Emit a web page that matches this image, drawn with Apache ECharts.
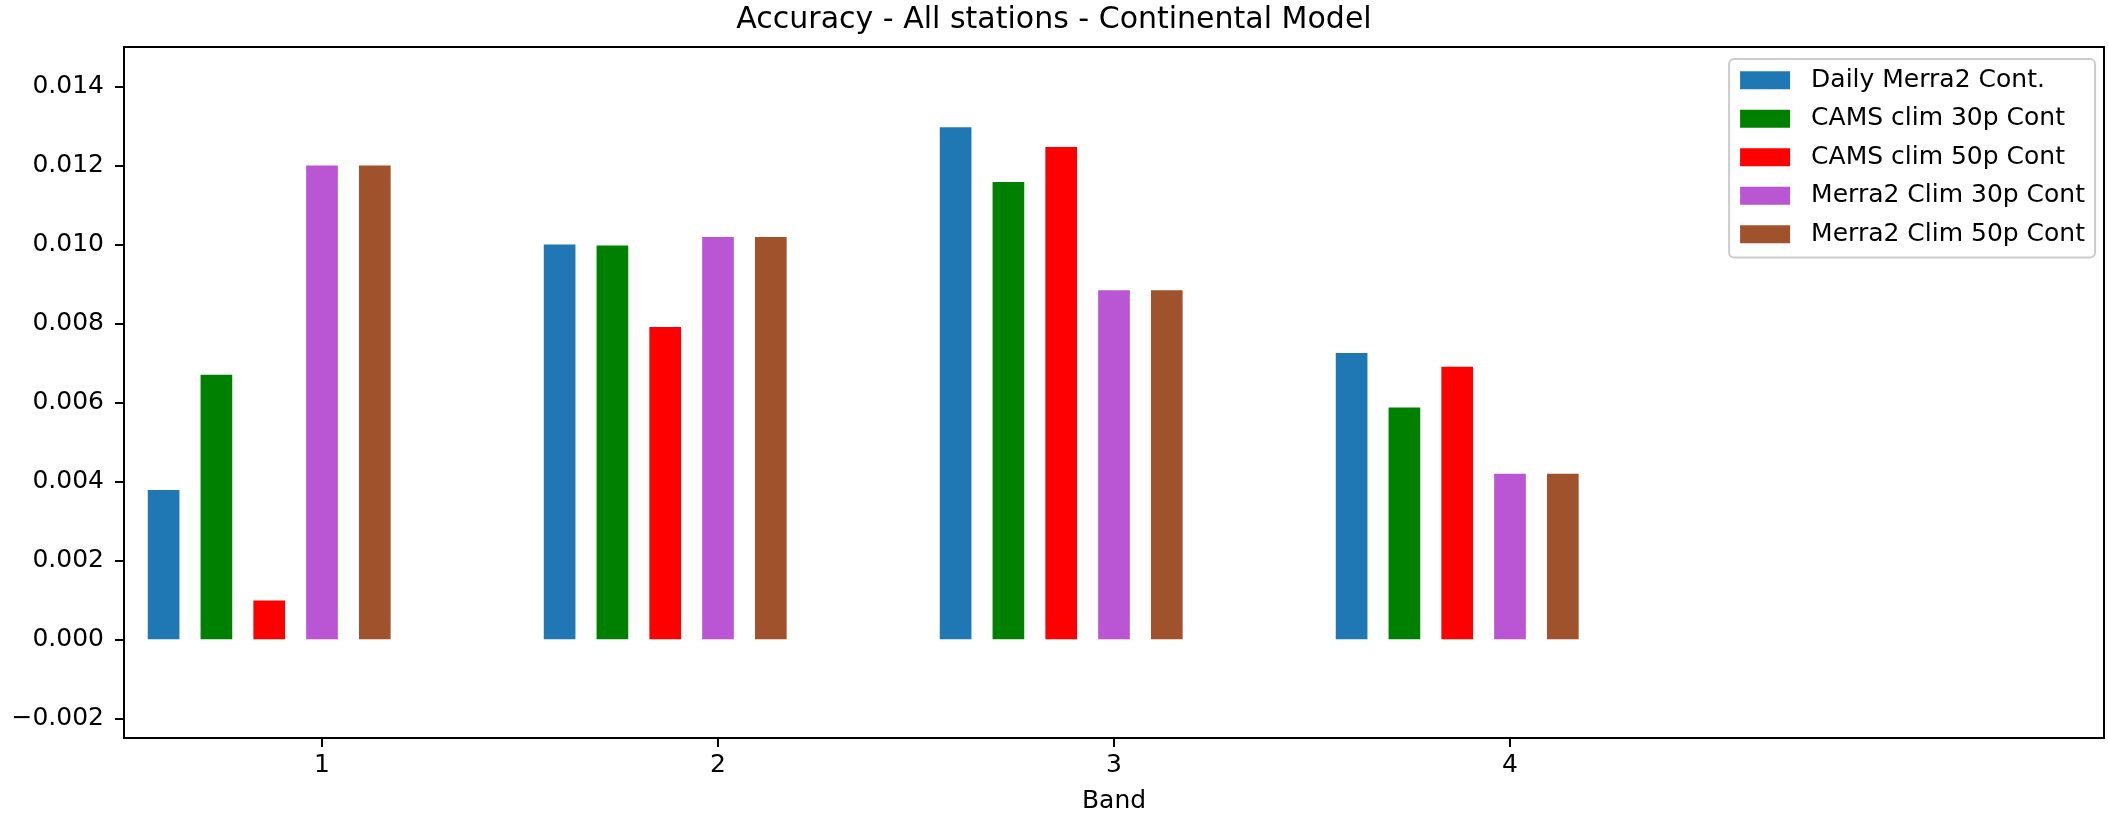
<!DOCTYPE html>
<html>
<head>
<meta charset="utf-8">
<title>Accuracy - All stations - Continental Model</title>
<script src="https://cdn.jsdelivr.net/npm/echarts@6/dist/echarts.min.js"></script>
<style>
  html, body { margin: 0; padding: 0; background: #ffffff; }
  #chart { width: 2108px; height: 819px; }
</style>
</head>
<body>
<div id="chart"></div>
<script>
// Spectral bands on the x axis
const bands = [1, 2, 3, 4];

// Accuracy per band for each aerosol input
const seriesNames = [
  'Daily Merra2 Cont.',
  'CAMS clim 30p Cont',
  'CAMS clim 50p Cont',
  'Merra2 Clim 30p Cont',
  'Merra2 Clim 50p Cont'
];
const dailyMerra2 = [0.00378, 0.01000, 0.01297, 0.00725];
const camsClim30p = [0.00670, 0.00997, 0.01158, 0.00587];
const camsClim50p = [0.00098, 0.00791, 0.01247, 0.00690];
const merra2Clim30p = [0.01200, 0.01019, 0.00884, 0.00419];
const merra2Clim50p = [0.01200, 0.01019, 0.00884, 0.00419];

// Tick labels
const yTicks = [-0.002, 0.000, 0.002, 0.004, 0.006, 0.008, 0.010, 0.012, 0.014];
const xTicks = bands;

const seriesValues = [dailyMerra2, camsClim30p, camsClim50p, merra2Clim30p, merra2Clim50p];
const colors = ['#1f77b4', '#008000', '#ff0000', '#ba55d3', '#a0522d'];

// Bars of one band sit side by side, one slot per input; the fourth slot is on the band's tick
const slotStep = 0.4 / 3;
const slotStart = -0.4;
const barWidthData = 0.08;

const FONT = 'DejaVu Sans';
const gridLeft = 124, gridRight = 4;
const xMin = 0.5, xMax = 5.5;
const plotWidth = 2108 - gridLeft - gridRight;
const barWidthPx = barWidthData * plotWidth / (xMax - xMin);

const chart = echarts.init(document.getElementById('chart'), null, { renderer: 'canvas' });

const series = seriesNames.map((name, k) => ({
  name: name,
  type: 'bar',
  barWidth: barWidthPx,
  barGap: '-100%',
  itemStyle: { color: colors[k] },
  data: bands.map((b, i) => [b + slotStart + k * slotStep, seriesValues[k][i]])
}));

const formatY = v => {
  const s = Math.abs(v).toFixed(3);
  return v < -1e-12 ? '\u2212' + s : s;
};

chart.setOption({
  animation: false,
  backgroundColor: '#ffffff',
  textStyle: { fontFamily: FONT },
  title: {
    text: 'Accuracy - All stations - Continental Model',
    left: 'center',
    top: 5,
    padding: 0,
    textStyle: { fontFamily: FONT, fontSize: 30, fontWeight: 'normal', color: '#000' }
  },
  legend: {
    orient: 'vertical',
    right: 13,
    top: 59,
    itemWidth: 50,
    itemHeight: 18,
    itemGap: 8,
    padding: [6, 10, 8, 11],
    backgroundColor: '#ffffff',
    borderColor: '#cccccc',
    borderWidth: 2,
    borderRadius: 5,
    icon: 'rect',
    itemStyle: { borderWidth: 0 },
    textStyle: {
      fontFamily: FONT, fontSize: 25, color: '#000',
      lineHeight: 30.5, padding: [0, 0, 0, 16]
    },
    data: seriesNames
  },
  grid: {
    left: gridLeft,
    right: gridRight,
    top: 47,
    bottom: 81,
    show: true,
    borderColor: '#000',
    borderWidth: 2,
    backgroundColor: 'transparent'
  },
  xAxis: {
    type: 'value',
    min: xMin,
    max: xMax,
    name: 'Band',
    nameLocation: 'middle',
    nameGap: 51,
    nameTextStyle: { fontFamily: FONT, fontSize: 25, color: '#000' },
    axisLine: { show: false, onZero: false },
    splitLine: { show: false },
    axisTick: { show: true, length: 9, lineStyle: { color: '#000', width: 2 }, customValues: xTicks },
    axisLabel: {
      fontFamily: FONT, fontSize: 25, color: '#000', margin: 15,
      customValues: xTicks,
      formatter: v => String(v)
    }
  },
  yAxis: {
    type: 'value',
    min: -0.0025,
    max: 0.015,
    axisLine: { show: false, onZero: false },
    splitLine: { show: false },
    axisTick: { show: true, length: 9, lineStyle: { color: '#000', width: 2 }, customValues: yTicks },
    axisLabel: {
      fontFamily: FONT, fontSize: 25, color: '#000', margin: 20,
      customValues: yTicks,
      formatter: formatY
    }
  },
  series: series
});
</script>
</body>
</html>
